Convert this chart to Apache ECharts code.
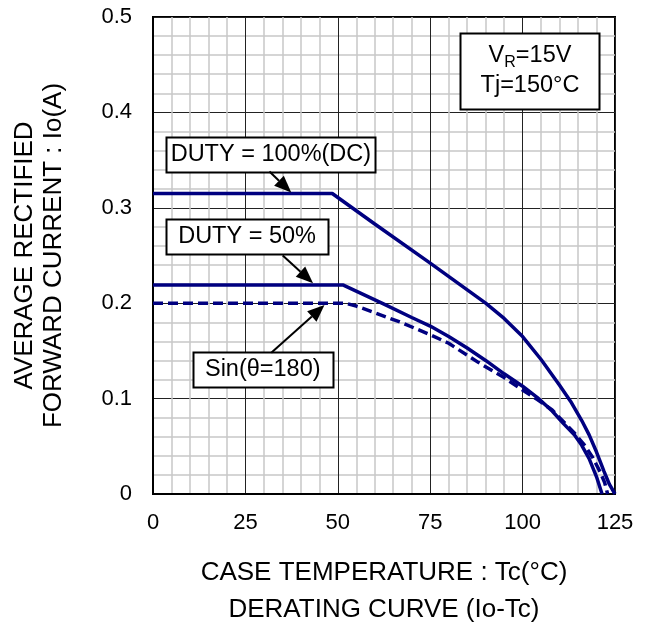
<!DOCTYPE html>
<html>
<head>
<meta charset="utf-8">
<script src="https://cdn.jsdelivr.net/npm/echarts@6/dist/echarts.min.js"></script>
<style>
html,body{margin:0;padding:0;background:#fff;}
#chart{width:647px;height:633px;}
</style>
</head>
<body>
<div id="chart"></div>
<script>
// ---- data ----
const xTicks = [0, 25, 50, 75, 100, 125];
const yTicks = [0, 0.1, 0.2, 0.3, 0.4, 0.5];

const dcTemp = [0, 48.5, 60, 75, 90, 95, 100, 105, 110, 113, 116, 118, 120, 122, 123.5, 125];
const dcIo   = [0.315, 0.315, 0.283, 0.242, 0.200, 0.184, 0.165, 0.141, 0.114, 0.097, 0.077, 0.062, 0.044, 0.024, 0.010, 0];

const d50Temp = [0, 51.5, 62.5, 70, 75, 80, 85, 90, 95, 100, 104, 108, 111, 114, 116, 118, 120, 121.5];
const d50Io   = [0.219, 0.219, 0.199, 0.185, 0.176, 0.165, 0.153, 0.140, 0.126, 0.113, 0.101, 0.087, 0.074, 0.062, 0.051, 0.037, 0.018, 0];

const sinTemp = [0, 52, 55, 60, 67, 75, 80, 88, 95, 100, 104, 108, 111, 114, 117, 119, 121, 122.2, 123];
const sinIo   = [0.200, 0.200, 0.197, 0.190, 0.180, 0.167, 0.158, 0.138, 0.122, 0.109, 0.099, 0.088, 0.076, 0.064, 0.050, 0.038, 0.023, 0.012, 0];

// annotation labels and anchor positions (data units)
const boxTexts   = ['DUTY = 100%(DC)', 'DUTY = 50%', 'Sin(θ=180)', '{n|V}{s|R}{n|=15V}\n{n|Tj=150°C}'];
const boxCenters = [[31.9, 0.356], [25.45, 0.270], [29.7, 0.130], [102.0, 0.4436]];
const arrowFrom  = [[31.5, 0.338], [35.1, 0.250], [32.0, 0.148]];
const arrowTo    = [[37.4, 0.316], [43.3, 0.221], [46.4, 0.198]];

// ---- styles ----
const FONT = 'Liberation Sans, Arial, sans-serif';
const NAVY = '#000080';
const boxSizes = [[209, 35], [162, 35], [140, 35], [139, 76]];

const zip = (a, b) => a.map((v, i) => [v, b[i]]);

const chart = echarts.init(document.getElementById('chart'), null, {renderer: 'canvas'});

const axisCommon = {
  type: 'value',
  axisLine: {show: true, onZero: false, lineStyle: {color: '#000', width: 2}},
  axisTick: {show: false},
  splitLine: {show: true, lineStyle: {color: '#222', width: 1}},
  minorTick: {show: false, splitNumber: 5},
  minorSplitLine: {show: true, lineStyle: {color: '#c8c8c8', width: 1.5}},
  nameLocation: 'middle'
};

const option = {
  animation: false,
  backgroundColor: '#fff',
  textStyle: {fontFamily: FONT},
  grid: {left: 153, top: 17, width: 462, height: 481, show: true,
         borderColor: '#000', borderWidth: 2, backgroundColor: '#fff'},
  xAxis: Object.assign({}, axisCommon, {
    min: xTicks[0], max: xTicks[xTicks.length - 1], interval: xTicks[1] - xTicks[0],
    axisLabel: {margin: 18, fontSize: 22, color: '#000', fontFamily: FONT},
    name: 'CASE TEMPERATURE : Tc(°C)\nDERATING CURVE (Io-Tc)',
    nameGap: 60,
    nameTextStyle: {fontSize: 26, lineHeight: 37, color: '#000', fontFamily: FONT}
  }),
  yAxis: Object.assign({}, axisCommon, {
    min: yTicks[0], max: yTicks[yTicks.length - 1], interval: 0.1,
    axisLabel: {margin: 21, fontSize: 22, color: '#000', fontFamily: FONT,
                formatter: v => String(Math.round(v * 10) / 10)},
    name: 'AVERAGE RECTIFIED\nFORWARD CURRENT : Io(A)',
    nameRotate: 90,
    nameGap: 85,
    nameTextStyle: {fontSize: 26, lineHeight: 29, color: '#000', fontFamily: FONT}
  }),
  series: [
    {type: 'line', name: 'DC', data: zip(dcTemp, dcIo), showSymbol: false, symbol: 'none',
     lineStyle: {color: NAVY, width: 3.5}, z: 3},
    {type: 'line', name: '50%', data: zip(d50Temp, d50Io), showSymbol: false, symbol: 'none',
     lineStyle: {color: NAVY, width: 3.5}, z: 3},
    {type: 'line', name: 'sin', data: zip(sinTemp, sinIo), showSymbol: false, symbol: 'none',
     lineStyle: {color: NAVY, width: 3.5, type: [10, 5]}, z: 3}
  ]
};
chart.setOption(option);

// ---- annotations: boxes and arrows placed through the axes' own scales ----
const px = p => chart.convertToPixel({gridIndex: 0}, p);
const elements = [];
boxTexts.forEach((t, i) => {
  const c = px(boxCenters[i]);
  const [w, h] = boxSizes[i];
  elements.push({
    type: 'rect', z: 10, silent: true,
    shape: {x: Math.round(c[0] - w / 2) + 0.5, y: Math.round(c[1] - h / 2) + 0.5, width: w, height: h},
    style: {fill: '#fff', stroke: '#000', lineWidth: 2}
  });
  elements.push({
    type: 'text', z: 11, silent: true,
    x: c[0], y: c[1],
    style: {
      text: t, align: 'center', verticalAlign: 'middle',
      fill: '#000', font: '23.5px ' + FONT, lineHeight: 30,
      rich: {
        n: {fontSize: 23.5, fill: '#000', lineHeight: 30, fontFamily: FONT},
        s: {fontSize: 16, fill: '#000', lineHeight: 30, verticalAlign: 'bottom', fontFamily: FONT}
      }
    }
  });
});
arrowFrom.forEach((p, i) => {
  const a = px(p), b = px(arrowTo[i]);
  const dx = b[0] - a[0], dy = b[1] - a[1];
  const L = Math.hypot(dx, dy), ux = dx / L, uy = dy / L;
  const headLen = 17, headHalf = 7;
  const bx = b[0] - ux * headLen, by = b[1] - uy * headLen;
  elements.push({
    type: 'line', z: 12, silent: true,
    shape: {x1: a[0], y1: a[1], x2: bx, y2: by},
    style: {stroke: '#000', lineWidth: 2}
  });
  elements.push({
    type: 'polygon', z: 12, silent: true,
    shape: {points: [[b[0], b[1]], [bx - uy * headHalf, by + ux * headHalf], [bx + uy * headHalf, by - ux * headHalf]]},
    style: {fill: '#000'}
  });
});
chart.setOption({graphic: {elements: elements}});
</script>
</body>
</html>
